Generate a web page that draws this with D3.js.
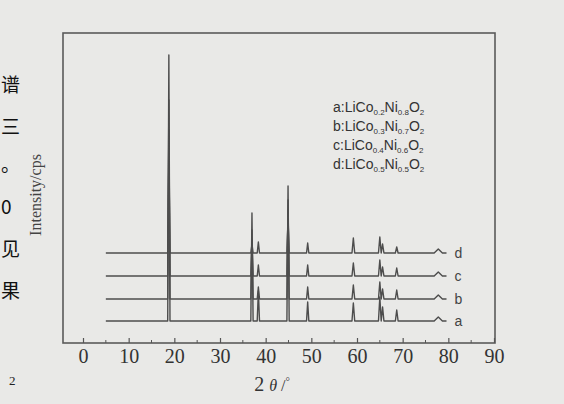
<!DOCTYPE html>
<html><head><meta charset="utf-8">
<script src="https://cdn.jsdelivr.net/npm/d3@7/dist/d3.min.js"></script>
<style>
html,body{margin:0;padding:0;background:#e9e9e7;}
svg{display:block;}
</style></head>
<body>
<svg id="c" width="564" height="404"></svg>
<script>
// ---- data ----
const xTicks = [0,10,20,30,40,50,60,70,80,90];
const series = ["a","b","c","d"];
const legendCo = ["0.2","0.3","0.4","0.5"];
const legendNi = ["0.8","0.7","0.6","0.5"];
const offsets = [220, 440, 670, 900];           // baseline of each pattern (cps, stacked)
const peakTheta = [18.8, 37.0, 38.4, 44.9, 49.2, 59.2, 65.0, 65.6, 68.7, 77.8];
const peakWidth = [0.25,0.25,0.25,0.25,0.25,0.3,0.3,0.3,0.3,0.9];
const intA = [2660, 1080, 300, 1350, 190, 180, 240, 140, 110, 40];
const intB = [1990,  690, 120,  990, 120, 140, 170, 100,  90, 40];
const intC = [1460,  360, 110,  660, 110, 130, 160,  90,  80, 40];
const intD = [ 930,   90, 110,  330, 100, 150, 160,  90,  60, 40];
const intensities = [intA, intB, intC, intD];
const thetaStart = 5, thetaEnd = 79.6;

// ---- drawing ----
const svg = d3.select("#c");
const W=564,H=404;
svg.append("rect").attr("width",W).attr("height",H).attr("fill","#e9e9e7");

const frame = {l:63, r:495, t:33, b:343};
const x = d3.scaleLinear().domain([0,90]).range([83,494]);
const y = d3.scaleLinear().domain([0,3100]).range([343,33]);

// scan-page text fragments on the left edge
const leftChars = [["谱",92],["三",134],["。",172],["0",214],["见",256],["果",298]];
svg.selectAll("text.side").data(leftChars).join("text")
  .attr("class","side").attr("x",1).attr("y",d=>d[1])
  .attr("font-family","Noto Sans CJK SC").attr("font-size",19).attr("fill","#111")
  .text(d=>d[0]);
svg.append("text").attr("x",9).attr("y",385).attr("font-family","Liberation Serif")
  .attr("font-size",13).attr("fill","#222").text("2");

// frame
svg.append("rect").attr("x",frame.l).attr("y",frame.t)
  .attr("width",frame.r-frame.l).attr("height",frame.b-frame.t)
  .attr("fill","none").attr("stroke","#5a5a5a").attr("stroke-width",1.6);

// x axis
const xAxis = d3.axisBottom(x).tickValues(xTicks).tickSize(-5).tickPadding(10).tickFormat(d3.format("d"));
const gx = svg.append("g").attr("transform",`translate(0,${frame.b})`).call(xAxis);
gx.select(".domain").remove();
gx.selectAll(".tick line").attr("stroke","#555").attr("stroke-width",1.2);
gx.selectAll(".tick text").attr("font-family","Liberation Serif").attr("font-size",20)
  .attr("fill","#333").attr("dy","0.5em");
const minor = d3.range(5,90,10);
svg.append("g").selectAll("line").data(minor).join("line")
  .attr("x1",d=>x(d)).attr("x2",d=>x(d)).attr("y1",frame.b).attr("y2",frame.b-3)
  .attr("stroke","#555").attr("stroke-width",1);

// axis titles
const xt = svg.append("text").attr("x",272).attr("y",391).attr("text-anchor","middle")
  .attr("font-family","Liberation Serif").attr("font-size",20).attr("fill","#333");
xt.append("tspan").text("2 ");
xt.append("tspan").attr("font-style","italic").attr("font-size",16).text("θ");
xt.append("tspan").attr("font-size",16).text(" /");
xt.append("tspan").attr("font-size",11).attr("dy",-6).text("°");

svg.append("text").attr("transform","translate(41,195) rotate(-90)")
  .attr("text-anchor","middle").attr("font-family","Liberation Serif")
  .attr("font-size",16).attr("fill","#444").text("Intensity/cps");

// patterns
const line = d3.line().x(d=>x(d[0])).y(d=>y(d[1]));
series.forEach((s,i)=>{
  const base = offsets[i];
  const pts = [[thetaStart, base]];
  peakTheta.forEach((p,k)=>{
    const w = peakWidth[k];
    pts.push([p-w, base],[p, base+intensities[i][k]],[p+w, base]);
  });
  pts.push([thetaEnd, base]);
  svg.append("path").datum(pts).attr("d",line)
    .attr("fill","none").attr("stroke","#4d4d4d").attr("stroke-width",1.4)
    .attr("stroke-linejoin","round");
  svg.append("text").attr("x",x(thetaEnd)+8).attr("y",y(base)+5)
    .attr("font-family","Liberation Sans").attr("font-size",14).attr("fill","#444").text(s);
});

// legend
series.forEach((s,i)=>{
  const t = svg.append("text").attr("x",333).attr("y",112+i*19)
    .attr("font-family","Liberation Sans").attr("font-size",14).attr("fill","#333");
  t.append("tspan").text(s+":LiCo");
  t.append("tspan").attr("font-size",8).attr("dy",3).text(legendCo[i]);
  t.append("tspan").attr("dy",-3).text("Ni");
  t.append("tspan").attr("font-size",8).attr("dy",3).text(legendNi[i]);
  t.append("tspan").attr("dy",-3).text("O");
  t.append("tspan").attr("font-size",8).attr("dy",3).text("2");
});
</script>
</body></html>
